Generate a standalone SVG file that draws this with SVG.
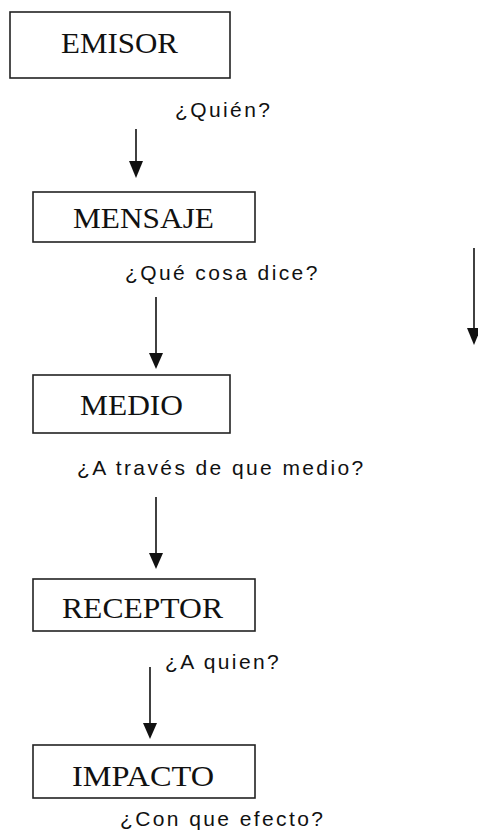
<svg xmlns="http://www.w3.org/2000/svg" width="478" height="834" viewBox="0 0 478 834">
<style>
.box{fill:#fff;stroke:#222;stroke-width:1.6}
.lbl{font-family:"Liberation Serif","Times New Roman",serif;font-size:30px;fill:#111}
.q{font-family:"Liberation Sans",Arial,sans-serif;font-size:21px;letter-spacing:2.4px;fill:#111}
.arr{stroke:#111;stroke-width:1.6;fill:none}
.head{fill:#111}
</style>
<rect width="478" height="834" fill="#fff"/>
<g id="emisor"><rect class="box" x="10" y="12" width="220" height="66"/><text class="lbl" x="61" y="53" textLength="117" lengthAdjust="spacingAndGlyphs">EMISOR</text></g>
<g id="mensaje"><rect class="box" x="33" y="192" width="222" height="50"/><text class="lbl" x="73" y="228" textLength="141" lengthAdjust="spacingAndGlyphs">MENSAJE</text></g>
<g id="medio"><rect class="box" x="33" y="375" width="197" height="58"/><text class="lbl" x="80" y="415" textLength="103" lengthAdjust="spacingAndGlyphs">MEDIO</text></g>
<g id="receptor"><rect class="box" x="33" y="579" width="222" height="52"/><text class="lbl" x="62" y="618" textLength="161" lengthAdjust="spacingAndGlyphs">RECEPTOR</text></g>
<g id="impacto"><rect class="box" x="33" y="745" width="222" height="53"/><text class="lbl" x="72" y="786" textLength="142" lengthAdjust="spacingAndGlyphs">IMPACTO</text></g>
<g id="labels">
<text class="q" x="175" y="117">¿Quién?</text>
<text class="q" x="125" y="280">¿Qué cosa dice?</text>
<text class="q" x="77" y="475">¿A través de que medio?</text>
<text class="q" x="165" y="669">¿A quien?</text>
<text class="q" x="120" y="826">¿Con que efecto?</text>
</g>
<g id="connectors">
<line class="arr" x1="136" y1="129" x2="136" y2="162"/><polygon class="head" points="129,161 143,161 136,178"/>
<line class="arr" x1="156" y1="297" x2="156" y2="354"/><polygon class="head" points="149,353 163,353 156,369"/>
<line class="arr" x1="156" y1="497" x2="156" y2="554"/><polygon class="head" points="149,553 163,553 156,569"/>
<line class="arr" x1="150" y1="667" x2="150" y2="724"/><polygon class="head" points="143,723 157,723 150,739"/>
<line class="arr" x1="474" y1="248" x2="474" y2="329"/><polygon class="head" points="467,328 481,328 474,345"/>
</g>
</svg>
